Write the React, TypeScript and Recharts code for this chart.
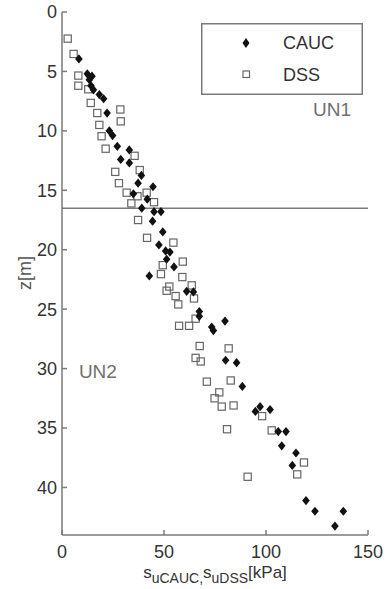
import React from "react";
import {
  ScatterChart,
  Scatter,
  XAxis,
  YAxis,
  ReferenceLine,
  ReferenceDot,
  Legend
} from "recharts";

// CAUC undrained strength [kPa] vs depth z [m]
const caucStrength = [
  8.3, 12.4, 14.7, 13.4, 14.2, 15.4, 18.3, 20.4, 22.1, 23.2, 24.8, 27.1, 33.0,
  28.8, 33.0, 38.9, 37.3, 44.6, 35.0, 41.8, 39.1, 45.1, 48.5, 44.4, 49.4, 47.5,
  50.8, 52.9, 51.3, 54.9, 42.8, 61.1, 64.4, 67.3, 67.3, 73.4, 74.2, 79.9, 80.2,
  85.6, 88.4, 94.8, 97.1, 102.0, 106.0, 109.8, 107.7, 114.7, 112.9, 119.6,
  124.0, 137.9, 133.8
];
const caucDepth = [
  3.95, 5.2, 5.4, 5.7, 6.2, 6.55, 6.95, 7.3, 8.5, 10.0, 10.4, 11.3, 11.6, 12.4,
  12.7, 13.75, 14.4, 14.7, 15.3, 15.75, 16.5, 16.8, 16.8, 17.6, 18.5, 19.6,
  20.1, 20.2, 20.8, 21.45, 22.2, 23.5, 23.55, 25.2, 25.6, 26.5, 26.8, 26.0,
  29.3, 29.5, 31.5, 33.6, 33.2, 33.45, 35.3, 35.3, 36.5, 37.1, 38.15, 41.1,
  42.0, 42.0, 43.25
];

// DSS undrained strength [kPa] vs depth z [m]
const dssStrength = [
  2.8, 5.7, 8.0, 8.0, 12.9, 14.1, 17.3, 28.6, 28.8, 18.3, 19.4, 21.4, 35.6,
  38.1, 26.1, 27.9, 31.7, 34.0, 37.0, 41.5, 45.1, 37.3, 41.7, 54.6, 59.2, 49.4,
  48.5, 59.0, 52.6, 51.3, 55.7, 57.0, 63.6, 64.7, 57.4, 62.3, 65.5, 67.5, 65.5,
  68.0, 81.7, 71.0, 82.7, 77.1, 74.8, 78.3, 84.1, 80.9, 98.1, 102.8, 91.0,
  118.6, 115.3
];
const dssDepth = [
  2.24, 3.53, 5.35, 6.2, 6.5, 7.65, 8.5, 8.2, 9.2, 9.5, 10.45, 11.5, 12.1,
  13.3, 13.45, 14.4, 15.2, 16.1, 15.5, 15.2, 16.0, 17.5, 19.0, 19.4, 21.0,
  21.3, 22.05, 22.3, 23.1, 23.45, 23.9, 24.6, 23.0, 24.1, 26.4, 26.4, 25.8,
  28.1, 29.1, 29.4, 28.3, 31.1, 31.0, 32.0, 32.5, 33.2, 33.1, 35.1, 34.0,
  35.2, 39.1, 37.9, 38.9
];

const xTicks = [0, 50, 100, 150];
const yTicks = [0, 5, 10, 15, 20, 25, 30, 35, 40];
const layerBoundary = 16.5;

const cauc = caucStrength.map((s, i) => ({ s, z: caucDepth[i] }));
const dss = dssStrength.map((s, i) => ({ s, z: dssDepth[i] }));

const FONT = '"Liberation Sans", Arial, Helvetica, sans-serif';
const AXIS = "#7a7a7a";

const Diamond = (p: any) => (
  <path
    d={`M${p.cx},${p.cy - 4.6} L${p.cx + 3.8},${p.cy} L${p.cx},${p.cy + 4.6} L${p.cx - 3.8},${p.cy} Z`}
    fill="#111"
  />
);

const Square = (p: any) => (
  <rect
    x={p.cx - 3.6}
    y={p.cy - 3.6}
    width={7.2}
    height={7.2}
    fill="none"
    stroke="#666"
    strokeWidth={1.2}
  />
);

const LegendBox = () => (
  <svg width={162} height={72} style={{ display: "block" }}>
    <rect x={0.75} y={0.75} width={160.5} height={70.5} fill="#fff" stroke={AXIS} strokeWidth={1.5} />
    <path d="M45,15 L48.5,20 L45,25 L41.5,20 Z" fill="#111" />
    <text x={82} y={26} fontSize={18} fill="#333" fontFamily={FONT}>CAUC</text>
    <rect x={42} y={48} width={6.5} height={6.5} fill="none" stroke="#666" strokeWidth={1.2} />
    <text x={82} y={58} fontSize={18} fill="#333" fontFamily={FONT}>DSS</text>
  </svg>
);

const XLabel = (props: any) => {
  const vb = props.viewBox || { x: 62, y: 535, width: 306 };
  const cx = vb.x + vb.width / 2;
  return (
    <text x={cx} y={578} textAnchor="middle" fontSize={17} fill="#333" fontFamily={FONT}>
      <tspan>s</tspan>
      <tspan fontSize={14} dy={5}>uCAUC</tspan>
      <tspan fontSize={14}>,</tspan>
      <tspan dy={-5}>s</tspan>
      <tspan fontSize={14} dy={5}>uDSS</tspan>
      <tspan dy={-5}>[kPa]</tspan>
    </text>
  );
};

const YLabel = () => (
  <text
    x={31}
    y={273}
    transform="rotate(-90 31 273)"
    textAnchor="middle"
    fontSize={18}
    fill="#555"
    fontFamily={FONT}
  >
    z[m]
  </text>
);

export default function App() {
  const tickStyle = { fill: "#333", fontSize: 18, fontFamily: FONT };
  return (
    <div style={{ position: "absolute", left: 0, top: 0, background: "#fff" }}>
      <ScatterChart
        width={390}
        height={589}
        margin={{ top: 12, right: 22, bottom: 0, left: 0 }}
      >
        <XAxis
          xAxisId="b"
          type="number"
          dataKey="s"
          domain={[0, 150]}
          ticks={xTicks}
          tickSize={-5}
          tickMargin={15}
          height={54}
          stroke={AXIS}
          strokeWidth={1.5}
          tick={tickStyle}
          label={<XLabel />}
        />
        <XAxis
          xAxisId="t"
          orientation="top"
          type="number"
          domain={[0, 150]}
          ticks={xTicks}
          tickSize={-5}
          height={0}
          stroke={AXIS}
          strokeWidth={1.5}
          tick={false}
        />
        <YAxis
          yAxisId="l"
          type="number"
          dataKey="z"
          reversed
          domain={[0, 44]}
          ticks={yTicks}
          tickSize={-5}
          tickMargin={10}
          width={62}
          stroke={AXIS}
          strokeWidth={1.5}
          tick={tickStyle}
          label={<YLabel />}
        />
        <YAxis
          yAxisId="r"
          orientation="right"
          type="number"
          reversed
          domain={[0, 44]}
          ticks={yTicks}
          tickSize={-5}
          width={0}
          stroke={AXIS}
          strokeWidth={1.5}
          tick={false}
        />
        <ReferenceLine xAxisId="b" yAxisId="l" y={layerBoundary} stroke={AXIS} strokeWidth={1.5} />
        <ReferenceDot
          xAxisId="b"
          yAxisId="l"
          x={132.4}
          y={8.2}
          r={0}
          stroke="none"
          label={{ value: "UN1", position: "center", fill: "#707070", fontSize: 19, fontFamily: FONT }}
        />
        <ReferenceDot
          xAxisId="b"
          yAxisId="l"
          x={17.6}
          y={30.25}
          r={0}
          stroke="none"
          label={{ value: "UN2", position: "center", fill: "#707070", fontSize: 19, fontFamily: FONT }}
        />
        <Scatter
          name="DSS"
          xAxisId="b"
          yAxisId="l"
          data={dss}
          shape={Square}
          isAnimationActive={false}
        />
        <Scatter
          name="CAUC"
          xAxisId="b"
          yAxisId="l"
          data={cauc}
          shape={Diamond}
          isAnimationActive={false}
        />
        <Legend
          layout="horizontal"
          verticalAlign="middle"
          align="center"
          wrapperStyle={{ position: "absolute", left: 201, top: 23, width: 162, height: 72 }}
          content={() => <LegendBox />}
        />
      </ScatterChart>
    </div>
  );
}
